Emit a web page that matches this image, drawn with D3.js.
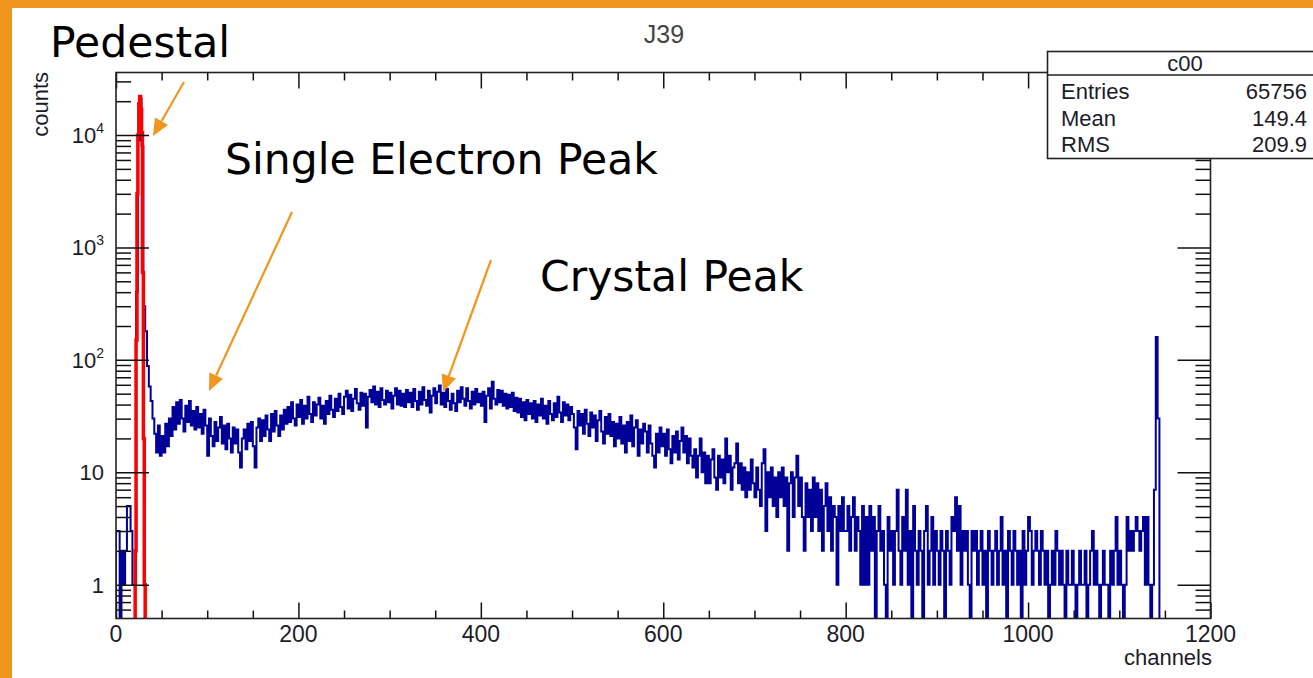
<!DOCTYPE html>
<html>
<head>
<meta charset="utf-8">
<script src="https://cdn.jsdelivr.net/npm/d3@7"></script>
<style>
  body { margin: 0; background: #fff; }
  svg { display: block; }
</style>
</head>
<body>
<div id="chart"></div>
<script>
// histogram "J39": blue spectrum in 2-channel bins
const binWidth = 2;
const counts000 = [3,3,0,2,1,2,5,5,3,1, 1,400,9000,21000,8000,300,180,
  88,58,43,30,22,15,26,14,21,15,27,17,30,21,38,24,42,27,44,30,23,39,28,43,26,35,24,38,25,33,22,36,26];
const counts100 = [14,30,21,17,28,19,25,31,18,26, 16,27,20,15,25,18,24,15,11,20,
  24,16,27,19,28,17,11,25,30,19, 29,21,32,24,19,33,23,35,26,21, 32,24,36,27,38,28,42,30,26,40];
const counts200 = [31,44,27,39,30,47,33,28,42,32, 40,46,30,39,27,43,33,48,36,31,
  45,35,50,38,33,47,53,37,49,35, 45,55,41,36,51,39,50,25,47,54, 42,58,40,52,38,56,44,40,53,42];
const counts300 = [51,37,48,56,40,53,39,50,38,54, 42,51,38,55,43,36,52,40,57,44,
  39,53,34,48,56,41,52,59,40,51, 38,55,43,36,50,41,35,53,42,57, 45,39,56,43,37,52,40,55,42,50];
const counts400 = [39,52,28,48,56,37,64,45,40,54, 42,53,39,50,37,49,38,51,35,46,
  34,45,31,42,29,44,33,41,30,43, 28,40,32,45,30,39,27,43,33,29, 41,31,47,34,28,42,32,40,29,38];
const counts500 = [33,25,16,35,26,33,22,36,27,21, 34,25,32,19,29,35,23,18,31,22,
  33,21,28,17,27,20,31,18,26,15, 28,19,32,17,25,29,14,24,18,27, 23,15,26,18,14,11,22,15,25,17];
const counts600 = [22,14,24,16,12,21,15,23,13,19, 25,15,21,12,20,14,11,16,9,14,
  20,10,15,8,14,8,13,16,9,7, 14,9,13,8,20,10,14,7,11,12, 18,8,12,7,11,6,10,7,13,8];
const counts700 = [6,11,7,5,12,16,3,10,6,11, 5,9,4,10,6,11,5,9,2,8,
  10,4,9,14,5,9,4,2,8,4, 7,3,9,4,8,3,7,2,5,8, 3,6,2,5,4,1,5,3,6,3];
const counts800 = [3,5,2,4,6,2,4,3,1,5, 1,4,1,5,2,4,0,3,5,2,
  3,1,0,4,2,3,1,3,7,2, 1,4,2,7,1,3,0,5,2,1, 3,2,0,3,5,1,2,4,1,3];
const counts900 = [2,1,3,2,0,3,2,1,4,3, 6,2,5,1,3,2,3,1,0,3,
  2,3,1,2,3,1,2,0,3,2, 1,2,3,1,2,4,1,2,0,3, 2,1,3,2,1,2,0,3,1,2];
const counts1000 = [4,3,1,2,3,2,1,3,2,1, 2,0,1,2,1,3,2,1,2,1,
  0,2,1,1,2,1,0,1,2,1, 1,2,0,1,2,3,1,2,1,0, 1,2,1,1,0,2,1,2,4,1];
const counts1100 = [2,1,0,1,4,2,3,2,3,4, 3,2,3,4,1,4,1,0,1,7, 160,30];

// pedestal (red), 1-channel bins
const pedStart = 21;
const pedCounts = [2,150,3000,10000,19000,22000,17000,10500,600,20,1];

const xTicksMajor = [0, 200, 400, 600, 800, 1000, 1200];
const yDecades = [1, 10, 100, 1000, 10000];
const stats = [["Entries", "65756"], ["Mean", "149.4"], ["RMS", "209.9"]];

const W = 1313, H = 678;
const orange = '#f0961e';
const font = '"Liberation Sans", Arial, sans-serif';

const svg = d3.select('#chart').append('svg')
  .attr('width', W).attr('height', H);

// slide frame
svg.append('rect').attr('width', W).attr('height', H).attr('fill', orange);
svg.append('rect').attr('x', 12).attr('y', 8).attr('width', W - 12).attr('height', H - 8).attr('fill', '#fff');

const x = d3.scaleLinear().domain([0, 1200]).range([116, 1210.5]);
const y = d3.scaleLog().domain([0.5, 36000]).range([618.5, 72.5]).clamp(true);
const yv = v => v > 0 ? y(v) : y.range()[0];
const yBot = y.range()[0], yTop = y.range()[1];

svg.append('defs').append('clipPath').attr('id', 'plot')
  .append('rect').attr('x', x(0)).attr('y', yTop)
  .attr('width', x(1200) - x(0)).attr('height', yBot - yTop);

function histPoints(counts, start, width) {
  const pts = [[start, 0]];
  counts.forEach((c, i) => pts.push([start + i * width, c]));
  const end = start + counts.length * width;
  pts.push([end, counts[counts.length - 1]]);
  pts.push([end, 0]);
  return pts;
}

const step = d3.line()
  .x(d => x(d[0]))
  .y(d => yv(d[1]))
  .curve(d3.curveStepAfter);

const blue = [].concat(counts000, counts100, counts200, counts300, counts400, counts500,
  counts600, counts700, counts800, counts900, counts1000, counts1100);

const g = svg.append('g').attr('clip-path', 'url(#plot)');

g.append('path')
  .attr('d', step(histPoints(blue, 0, binWidth)))
  .attr('fill', 'none')
  .attr('stroke', '#000099')
  .attr('stroke-width', 2);

g.append('path')
  .attr('d', step(histPoints(pedCounts, pedStart, 1)))
  .attr('fill', 'none')
  .attr('stroke', '#ff0000')
  .attr('stroke-width', 3.5);

// axes, ROOT style: ticks on all four sides, pointing inward
const axisCol = '#111';
const xMinor = d3.range(0, 1201, 50).filter(v => v % 200 !== 0);
const yMinor = [];
[0.1, 1, 10, 100, 1000, 10000].forEach(d => {
  for (let k = 2; k <= 9; k++) {
    const v = d * k;
    if (v > 0.5 && v < 36000) yMinor.push(v);
  }
});

function drawAxis(axis, tr) {
  const a = svg.append('g').attr('transform', tr).call(axis);
  a.select('.domain').remove();
  a.selectAll('.tick line').attr('stroke', axisCol).attr('stroke-width', 1.5);
  a.selectAll('.tick text').remove();
  return a;
}

drawAxis(d3.axisBottom(x).tickValues(xTicksMajor).tickSize(-16), `translate(0,${yBot})`);
drawAxis(d3.axisBottom(x).tickValues(xMinor).tickSize(-8), `translate(0,${yBot})`);
drawAxis(d3.axisTop(x).tickValues(xTicksMajor).tickSize(-16), `translate(0,${yTop})`);
drawAxis(d3.axisTop(x).tickValues(xMinor).tickSize(-8), `translate(0,${yTop})`);
drawAxis(d3.axisLeft(y).tickValues(yDecades).tickSize(-33), `translate(${x(0)},0)`);
drawAxis(d3.axisLeft(y).tickValues(yMinor).tickSize(-15), `translate(${x(0)},0)`);
drawAxis(d3.axisRight(y).tickValues(yDecades).tickSize(-33), `translate(${x(1200)},0)`);
drawAxis(d3.axisRight(y).tickValues(yMinor).tickSize(-15), `translate(${x(1200)},0)`);

svg.append('rect')
  .attr('x', x(0)).attr('y', yTop)
  .attr('width', x(1200) - x(0)).attr('height', yBot - yTop)
  .attr('fill', 'none').attr('stroke', '#222').attr('stroke-width', 1.6);

const txtCol = '#1c1c28';

svg.append('g').selectAll('text')
  .data(xTicksMajor).join('text')
  .attr('x', d => x(d)).attr('y', 642)
  .attr('text-anchor', 'middle')
  .attr('font-family', font).attr('font-size', 23).attr('fill', txtCol)
  .text(d => d);

const yl = svg.append('g').selectAll('text')
  .data(yDecades).join('text')
  .attr('x', 104).attr('y', d => y(d) + 8)
  .attr('text-anchor', 'end')
  .attr('font-family', font).attr('font-size', 22).attr('fill', txtCol);
yl.each(function(d) {
  const t = d3.select(this);
  const e = Math.round(Math.log10(d));
  if (e < 2) { t.text(d); return; }
  t.append('tspan').text('10');
  t.append('tspan').attr('dy', -10).attr('font-size', 14).text(e);
});

svg.append('text')
  .attr('x', 1212).attr('y', 665).attr('text-anchor', 'end')
  .attr('font-family', font).attr('font-size', 22).attr('fill', txtCol)
  .text('channels');

svg.append('text')
  .attr('transform', 'translate(48,72) rotate(-90)')
  .attr('text-anchor', 'end')
  .attr('font-family', font).attr('font-size', 22).attr('fill', txtCol)
  .text('counts');

svg.append('text')
  .attr('x', 664).attr('y', 43).attr('text-anchor', 'middle')
  .attr('font-family', font).attr('font-size', 25).attr('fill', '#444')
  .text('J39');

// stats box
const sb = svg.append('g');
sb.append('rect').attr('x', 1047.5).attr('y', 51.5).attr('width', 280).attr('height', 107)
  .attr('fill', '#fff').attr('stroke', '#222').attr('stroke-width', 1.6);
sb.append('line').attr('x1', 1047.5).attr('x2', 1330).attr('y1', 75).attr('y2', 75)
  .attr('stroke', '#222').attr('stroke-width', 1.6);
sb.append('text').attr('x', 1185).attr('y', 71).attr('text-anchor', 'middle')
  .attr('font-family', font).attr('font-size', 22).attr('fill', txtCol).text('c00');
stats.forEach((s, i) => {
  sb.append('text').attr('x', 1061).attr('y', 99 + i * 26.5)
    .attr('font-family', font).attr('font-size', 22).attr('fill', txtCol).text(s[0]);
  sb.append('text').attr('x', 1307).attr('y', 99 + i * 26.5).attr('text-anchor', 'end')
    .attr('font-family', font).attr('font-size', 22).attr('fill', txtCol).text(s[1]);
});

// annotations
const notes = [
  { text: 'Pedestal', x: 50, y: 57, from: [184, 82], to: [153, 136] },
  { text: 'Single Electron Peak', x: 225, y: 174, from: [292, 212], to: [209, 391] },
  { text: 'Crystal Peak', x: 540, y: 291, from: [491, 260], to: [443, 392] }
];
const ann = svg.append('g');
notes.forEach(n => {
  ann.append('text').attr('x', n.x).attr('y', n.y)
    .attr('font-family', '"DejaVu Sans", sans-serif').attr('font-size', 42.5)
    .attr('fill', '#000').text(n.text);
  const dx = n.to[0] - n.from[0], dy = n.to[1] - n.from[1];
  const len = Math.hypot(dx, dy), ux = dx / len, uy = dy / len;
  const hl = 17, hw = 7.5;
  const bx = n.to[0] - ux * hl, by = n.to[1] - uy * hl;
  ann.append('line')
    .attr('x1', n.from[0]).attr('y1', n.from[1]).attr('x2', bx).attr('y2', by)
    .attr('stroke', orange).attr('stroke-width', 2.2);
  ann.append('path')
    .attr('d', `M${n.to[0]},${n.to[1]}L${bx - uy * hw},${by + ux * hw}L${bx + uy * hw},${by - ux * hw}Z`)
    .attr('fill', orange);
});
</script>
</body>
</html>
